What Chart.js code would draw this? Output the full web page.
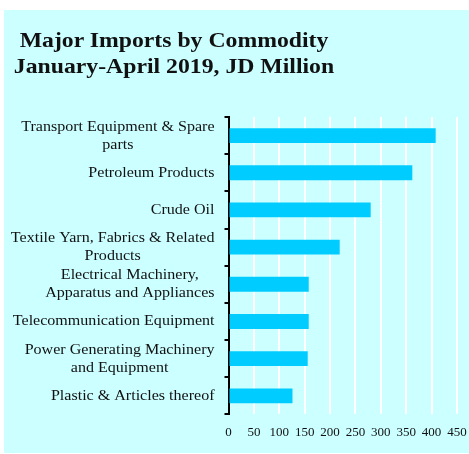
<!DOCTYPE html>
<html>
<head>
<meta charset="utf-8">
<script src="https://cdn.jsdelivr.net/npm/chart.js@4"></script>
<style>
  body { margin: 0; background: #fff; }
  #wrap { position: absolute; left: 4px; top: 10px; width: 465px; height: 443px; background: #CCFFFF; }
  #title { position: absolute; left: 0; top: 18px; width: 340px; text-align: center;
    font: bold 21px "Liberation Serif", serif; line-height: 25.6px; color: #111; z-index: 2;
    transform: scaleX(1.13); transform-origin: 170px 0; }
  #box { position: absolute; left: 0; top: 0; width: 465px; height: 443px; }
</style>
</head>
<body>
<div id="wrap">
  <div id="title">Major Imports by Commodity<br>January-April 2019, JD Million</div>
  <div id="box"><canvas id="myChart"></canvas></div>
</div>
<script>
const categories = [
  ['Transport Equipment & Spare', 'parts'],
  ['Petroleum Products'],
  ['Crude Oil'],
  ['Textile Yarn, Fabrics & Related', 'Products'],
  ['Electrical Machinery,', 'Apparatus and Appliances'],
  ['Telecommunication Equipment'],
  ['Power Generating Machinery', 'and Equipment'],
  ['Plastic & Articles thereof']
];
const values = [408, 362, 280, 219, 158, 158, 156, 126];
const xTicks = [0, 50, 100, 150, 200, 250, 300, 350, 400, 450];

// y labels: each multi-line label is a centred block, right-aligned to the axis
const yLabels = {
  id: 'yLabels',
  afterDraw(chart) {
    const ctx = chart.ctx;
    const ys = chart.scales.y;
    const lineH = 18;
    const sx = 1.07;
    ctx.save();
    ctx.font = '15px "Liberation Serif"';
    ctx.fillStyle = '#111';
    ctx.textAlign = 'center';
    ctx.textBaseline = 'middle';
    ctx.translate(ys.right - 14, 0);
    ctx.scale(sx, 1);
    categories.forEach((lines, i) => {
      const w = Math.max(...lines.map(l => ctx.measureText(l).width));
      const cx = -w / 2;
      const y0 = ys.getPixelForTick(i) - (lines.length - 1) * lineH / 2;
      lines.forEach((l, j) => ctx.fillText(l, cx, y0 + j * lineH));
    });
    ctx.restore();
  }
};

const c1 = document.getElementById('myChart');

new Chart(c1, {
  type: 'bar',
  data: {
    labels: categories,
    datasets: [{
      label: 'JD Million',
      data: values,
      backgroundColor: '#00CCFF',
      borderWidth: 0,
      barPercentage: 0.4,
      categoryPercentage: 1.0
    }]
  },
  options: {
    indexAxis: 'y',
    maintainAspectRatio: false,
    animation: false,
    layout: { padding: { top: 107, right: 0, bottom: 3, left: 0 } },
    plugins: {
      legend: { display: false },
      tooltip: { enabled: false }
    },
    scales: {
      x: {
        min: 0,
        max: 450,
        afterBuildTicks: s => { s.ticks = xTicks.map(v => ({ value: v })); },
        afterFit: s => { s.paddingRight = 12; s.paddingLeft = 0; },
        grid: {
          color: c => c.index === 0 ? 'rgba(0,0,0,0)' : '#ffffff',
          lineWidth: 2,
          drawTicks: false
        },
        border: { display: false },
        ticks: {
          padding: 10,
          maxRotation: 0,
          minRotation: 0,
          autoSkip: false,
          color: '#111',
          font: { family: 'Liberation Serif', size: 13 }
        }
      },
      y: {
        afterFit: s => { s.width = 224.5; },
        grid: {
          drawOnChartArea: false,
          drawTicks: true,
          tickLength: 4,
          color: '#000',
          lineWidth: 2
        },
        border: { display: true, color: '#000', width: 2 },
        ticks: { display: false }
      }
    }
  },
  plugins: [yLabels]
});
</script>
</body>
</html>
